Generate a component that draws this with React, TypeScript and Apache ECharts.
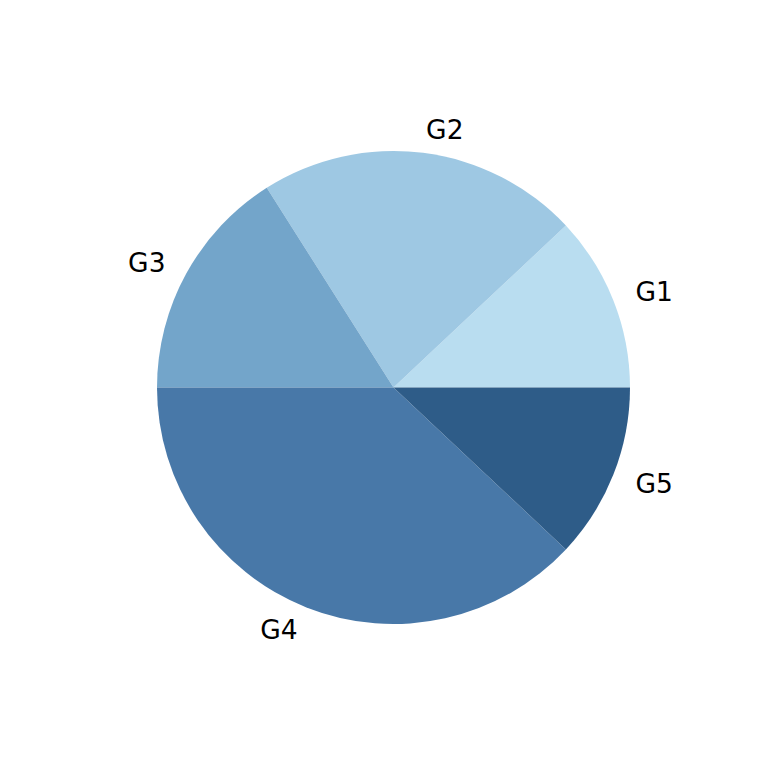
import React, { useEffect, useRef } from "react";
import * as echarts from "echarts";

const categories = ["G1", "G2", "G3", "G4", "G5"];
const values = [12, 22, 16, 38, 12];
const colors = ["#b9ddf0", "#9ec8e3", "#73a5ca", "#4878a8", "#2e5c88"];

export default function App() {
  const ref = useRef<HTMLDivElement>(null);
  useEffect(() => {
    document.body.style.margin = "0";
    const chart = echarts.init(ref.current!, null, { renderer: "svg" });
    const R = 236.5;
    chart.setOption({
      animation: false,
      backgroundColor: "#ffffff",
      series: [
        {
          type: "pie",
          center: [393.5, 387.5],
          radius: [0, R],
          startAngle: 0,
          clockwise: false,
          avoidLabelOverlap: false,
          data: categories.map((c, i) => ({
            name: c,
            value: values[i],
            itemStyle: { color: colors[i] },
          })),
          itemStyle: { borderWidth: 0 },
          label: {
            show: true,
            position: "outside",
            formatter: "{b}",
            fontFamily: "DejaVu Sans",
            fontSize: 26.5,
            color: "#000000",
            distanceToLabelLine: 0,
            padding: [0, 0, 4, 0],
          },
          labelLine: { show: false, length: R * 0.1, length2: 0 },
          emphasis: { disabled: true },
        },
      ],
    });
    return () => chart.dispose();
  }, []);
  return <div ref={ref} style={{ width: 768, height: 768 }} />;
}
